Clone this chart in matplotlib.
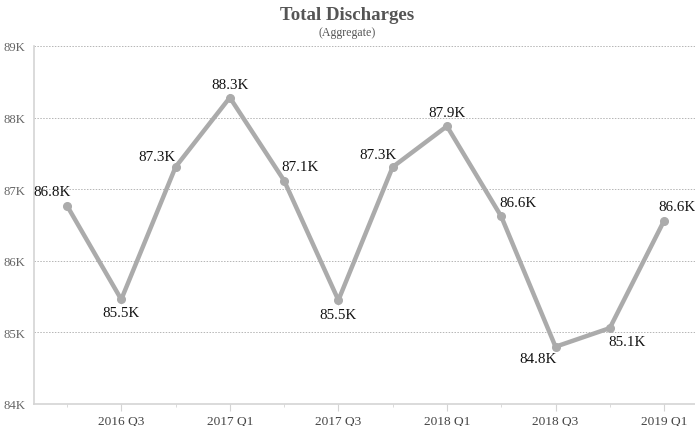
import matplotlib
matplotlib.use("Agg")
import matplotlib.pyplot as plt
from matplotlib.ticker import FuncFormatter, FixedLocator

quarters = ["2016 Q2", "2016 Q3", "2016 Q4", "2017 Q1", "2017 Q2", "2017 Q3",
            "2017 Q4", "2018 Q1", "2018 Q2", "2018 Q3", "2018 Q4", "2019 Q1"]
values = [86.77, 85.46, 87.31, 88.28, 87.12, 85.45, 87.31, 87.88, 86.62, 84.80, 85.06, 86.56]
labels = ["86.8K", "85.5K", "87.3K", "88.3K", "87.1K", "85.5K",
          "87.3K", "87.9K", "86.6K", "84.8K", "85.1K", "86.6K"]
shown_ticks = ["2016 Q3", "2017 Q1", "2017 Q3", "2018 Q1", "2018 Q3", "2019 Q1"]

# label offsets in pixels (dx, dy) relative to each point
offsets = [(-15, 14), (0, -13), (-19, 11), (0, 13), (16, 14), (0, -14),
           (-15, 13), (0, 14), (17, 14), (-17, -12), (17, -13), (13, 14)]

plt.rcParams['font.family'] = ['Liberation Serif', 'DejaVu Serif']

fig = plt.figure(figsize=(6.95, 4.27), dpi=100)
ax = fig.add_axes([34/695, 1-405/427, 1-34/695, (405-47)/427])

x = list(range(len(quarters)))
ax.plot(x, values, color='#ababab', lw=3.2, marker='o', ms=5.5, solid_joinstyle='miter',
        zorder=3)

for xi, v, lab, (dx, dy) in zip(x, values, labels, offsets):
    ax.annotate(lab, (xi, v), xytext=(dx, dy), textcoords='offset pixels',
                ha='center', va='center', fontsize=10.8, color='#111111', zorder=4)

ax.set_xlim(-0.608, 11.57)
ax.set_ylim(84, 89)

ax.set_yticks([84, 85, 86, 87, 88, 89])
ax.yaxis.set_major_formatter(FuncFormatter(lambda v, p: f"{int(v)}K"))
major_pos = [quarters.index(q) for q in shown_ticks]
ax.xaxis.set_major_locator(FixedLocator(major_pos))
ax.set_xticklabels(shown_ticks)
ax.xaxis.set_minor_locator(FixedLocator([i for i in x if i not in major_pos]))

for yv in [85, 86, 87, 88, 89]:
    ax.axhline(yv, color='#b5b5b5', lw=0.7, ls=(0, (1.5, 1.5)), zorder=1)

for s in ['top', 'right']:
    ax.spines[s].set_visible(False)
for s in ['left', 'bottom']:
    ax.spines[s].set_color('#d4d4d4')
    ax.spines[s].set_linewidth(1.2)

ax.tick_params(axis='y', length=0, pad=6, labelsize=9.2, labelcolor='#666666')
ax.tick_params(axis='x', which='major', length=5, color='#d4d4d4', pad=3,
               labelsize=9.6, labelcolor='#444444')
ax.tick_params(axis='x', which='minor', length=2, color='#d4d4d4')

fig.text(0.5, 1-16/427, "Total Discharges", ha='center', va='center',
         fontsize=13.6, fontweight='bold', color='#555555')
fig.text(0.5, 1-33/427, "(Aggregate)", ha='center', va='center',
         fontsize=8.6, color='#555555')

fig.savefig("out.png", dpi=100)
